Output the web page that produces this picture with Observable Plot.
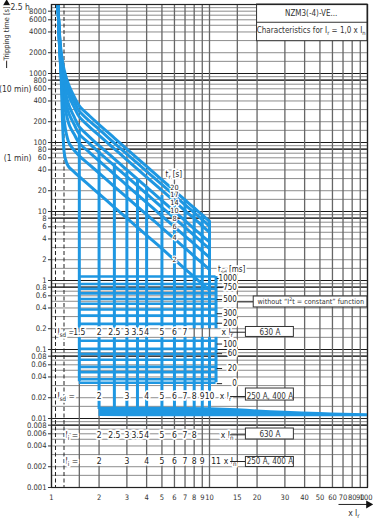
<!DOCTYPE html>
<html>
<head>
<meta charset="utf-8">
<script src="https://cdn.jsdelivr.net/npm/d3@7"></script>
<script src="https://cdn.jsdelivr.net/npm/@observablehq/plot@0.6"></script>
<style>
html,body{margin:0;padding:0;background:#fff;}
#chart svg{display:block;}
</style>
</head>
<body>
<div id="chart"></div>
<script>
// ---------- axes ----------
const xTicks = [1,2,3,4,5,6,7,8,9,10,15,20,30,40,50,60,70,80,90];
const xLastTick = [100];
const yTicks = [0.001,0.002,0.004,0.006,0.008,0.01,0.02,0.04,0.06,0.08,0.1,0.2,0.4,0.6,0.8,1,2,4,6,8,10,20,40,60,80,100,200,400,600,800,1000,2000,4000,6000,8000];
const xGrid = [1,1.5,2,3,4,5,6,7,8,9,10,15,20,30,40,50,60,70,80,90,100];
const xDashed = [1.06,1.2];
const gridMantissa = [1,1.5,2,3,4,5,6,7,8,9];
const gridDecades = [0.001,0.01,0.1,1,10,100,1000];
const yDark = [0.008,0.01,0.08,0.1,0.8,1,8,10,80,100,800,1000,10000];

// ---------- overload curves (tr) ----------
const trValues = [20,17,14,10,8,6,4,2];
const curveX = [1.1,1.12,1.15,1.2,1.25,1.3,1.4,1.5,1.75,2,2.5,3,4,5,6,7,8,9,10];
const t20 = [10000,4200,2100,1150,820,640,450,340,240,182,116,80,45,28.8,20,14.7,11.25,8.9,7.2];
const t17 = [10000,4000,1900,1000,700,540,380,285,202,155,98,68,38.3,24.5,17,12.5,9.6,7.6,6.1];
const t14 = [10000,3800,1700,860,590,450,315,235,166,127,81,56,31.5,20.2,14,10.3,7.9,6.2,5.0];
const t10 = [10000,3500,1450,680,440,330,228,168,119,90,58,40,22.5,14.4,10,7.35,5.6,4.45,3.6];
const t8  = [10000,3300,1300,560,340,250,178,132,95,72,46,32,18,11.5,8,5.9,4.5,3.55,2.9];
const t6  = [10000,3100,1150,420,240,175,128,98,71,54,34.5,24,13.5,8.6,6,4.4,3.4,2.67,2.16];
const t4  = [10000,3000,1000,220,125,95,76,64,47,36,23,16,9,5.8,4,2.94,2.25,1.78,1.44];
const t2  = [10000,3000,900,75,50,43,37,32,23.5,18,11.5,8,4.5,2.9,2,1.47,1.13,0.89,0.72];
const trLabels = ["20","17","14","10","8","6","4","2"];
const trLabelT = [22,17.3,13.2,10.3,7.9,6.0,4.2,2.0];

// ---------- short-time delay (Isd / tsd) ----------
const isdX      = [1.5,2,2.5,3,3.5,4,5,6,7,8,9,10,11];
const isdTop    = [150,75,50,37,29,23,17,15,14.7,11.25,8.9,7.2,1.14];
const isdBottom = [0.034,0.0135,0.0135,0.0135,0.0135,0.0135,0.0135,0.0135,0.0135,0.0135,0.0135,0.0135,0.033];
const tsdLineT  = [1.14,0.89,0.76,0.65,0.54,0.46,0.38,0.31,0.235,0.134,0.102,0.086,0.071,0.056,0.047,0.037,0.033];
const tsdLabels = ["1000","750","500","300","200","100","60","20","0"];
const tsdLabelT = [1.07,0.79,0.53,0.33,0.24,0.12,0.087,0.053,0.032];

// ---------- instantaneous band ----------
const bandX      = [2,5,10,15,20,30,50,70,100];
const bandTop    = [0.0146,0.0145,0.0143,0.0138,0.0133,0.0127,0.0122,0.0119,0.0117];
const bandBottom = [0.0107,0.0106,0.0106,0.0106,0.0106,0.0106,0.0106,0.0106,0.0106];

// ---------- setting rows ----------
const row1Nums = [1.5,2,2.5,3,3.5,4,5,6,7];
const row2Nums = [2,3,4,5,6,7,8,9,10];
const row3Nums = [2,2.5,3,3.5,4,5,6,7,8];
const row4Nums = [2,3,4,5,6,7,8,9,11];
const rowT = [0.178,0.0208,0.0058,0.00238];
const boxLabels = ["630 A","250 A, 400 A","630 A","250 A, 400 A"];
const boxTop = [0.212,0.0272,0.00716,0.00277];
const boxBot = [0.152,0.0182,0.00497,0.00198];

const BLUE = "#1e97e2";
const FONT = '"Liberation Sans Narrow","Arial Narrow","DejaVu Sans Condensed",sans-serif';

// build tables
const curveSets = [t20,t17,t14,t10,t8,t6,t4,t2];
const curveData = [];
trValues.forEach((tr,i)=>curveX.forEach((x,j)=>curveData.push({tr, x, t: curveSets[i][j]})));
const isdData = isdX.map((x,i)=>({x, top: isdTop[i], bottom: isdBottom[i]}));
const bandData = bandX.map((x,i)=>({x, top: bandTop[i], bottom: bandBottom[i]}));
const yGridAll = [];
gridDecades.forEach(d=>gridMantissa.forEach(m=>yGridAll.push(+(m*d).toPrecision(3))));
yGridAll.push(10000);
const boxData = boxLabels.map((s,i)=>({s, top: boxTop[i], bot: boxBot[i], row: rowT[i]}));
const tsdLab = tsdLabels.map((s,i)=>({s, t: tsdLabelT[i]}));
const trLab = trLabels.map((s,i)=>({s, t: trLabelT[i]}));

const halo = {stroke:"white", strokeWidth:3.5, fill:"#222"};
const X_LABEL_T = 0.00072;   // level of the x tick labels, below the frame

const plot = Plot.plot({
  width: 373, height: 518,
  marginTop: 4, marginRight: 6, marginBottom: 31, marginLeft: 51,
  style: {fontFamily: FONT, fontSize: "8.5px", background: "white", color: "#222"},
  x: {type: "log", domain: [1,100], axis: null},
  y: {type: "log", domain: [0.001,10000], axis: null},
  marks: [
    // grid
    Plot.ruleY(yGridAll, {stroke:"#8c8c8c", strokeWidth:1}),
    Plot.ruleY(yDark, {stroke:"#1a1a1a", strokeWidth:1.2}),
    Plot.ruleX(xGrid, {stroke:"#666", strokeWidth:1.3}),
    Plot.ruleX(xDashed, {stroke:"#222", strokeWidth:1, strokeDasharray:"4,2.5"}),
    // title box
    Plot.rect([0], {x1:20, x2:100, y1:2940, y2:10000, fill:"white", stroke:"#333", strokeWidth:1}),
    Plot.ruleY([5530], {x1:20, x2:100, stroke:"#333"}),
    Plot.text(["NZM3(-4)-VE..."], {x:()=>44, y:()=>7400, text:d=>d, fontSize:8, fill:"#333"}),
    Plot.text(["Characteristics for I_{r} = 1,0 x I_{n}"], {x:()=>44, y:()=>4270, text:d=>d, fontSize:8, fill:"#333"}),
    // overload curves
    Plot.line(curveData, {x:"x", y:"t", z:"tr", stroke:BLUE, strokeWidth:3, curve:"monotone-y", clip:true}),
    // Isd verticals (split around the label row)
    Plot.ruleX(isdData, {x:"x", y1:"top", y2:()=>0.2, stroke:BLUE, strokeWidth:3}),
    Plot.ruleX(isdData, {x:"x", y1:()=>0.15, y2:"bottom", stroke:BLUE, strokeWidth:3}),
    // tsd horizontal bands
    Plot.ruleY(tsdLineT, {x1:1.5, x2:11, stroke:BLUE, strokeWidth:2.6}),
    // instantaneous band
    Plot.areaY(bandData, {x:"x", y1:"bottom", y2:"top", fill:BLUE, curve:"monotone-x"}),
    // tr labels
    Plot.text(trLab, {x:()=>6, y:"t", text:"s", ...halo, strokeWidth:2.5, fontSize:7.2}),
    Plot.text(["t_{r} [s]"], {x:()=>5.95, y:()=>35, text:d=>d, ...halo, fontSize:8}),
    // tsd labels
    Plot.text(["t_{sd} [ms]"], {x:()=>11.3, y:()=>1.44, text:d=>d, textAnchor:"start", ...halo, fontSize:8}),
    Plot.ruleY(tsdLab, {y:"t", x1:()=>11.2, x2:()=>12.1, stroke:"#222", strokeWidth:1}),
    Plot.text(tsdLab, {x:()=>14.9, y:"t", text:"s", textAnchor:"end", ...halo, fontSize:8}),
    // "without I2t" box
    Plot.ruleY([0.49], {x1:15, x2:19, stroke:"#222"}),
    Plot.rect([0], {x1:19.05, x2:100, y1:0.407, y2:0.586, fill:"white", stroke:"#333"}),
    Plot.text(["without \u201cI^{2}t = constant\u201d function"], {x:()=>43.8, y:()=>0.49, text:d=>d, fontSize:7.2, fill:"#333"}),
    // setting rows
    Plot.text(["I_{sd} ="], {x:()=>1.09, y:()=>rowT[0], text:d=>d, textAnchor:"start", ...halo}),
    Plot.text(row1Nums, {x:d=>d, y:()=>rowT[0], text:d=>String(d), ...halo}),
    Plot.text(["x I_{r}"], {x:()=>11.9, y:()=>rowT[0], text:d=>d, textAnchor:"start", ...halo}),
    Plot.text(["I_{sd} ="], {x:()=>1.09, y:()=>rowT[1], text:d=>d, textAnchor:"start", ...halo}),
    Plot.text(row2Nums, {x:d=>d, y:()=>rowT[1], text:d=>String(d), ...halo}),
    Plot.text(["x I_{r}"], {x:()=>11.6, y:()=>rowT[1], text:d=>d, textAnchor:"start", ...halo}),
    Plot.text(["I_{i} ="], {x:()=>1.226, y:()=>rowT[2], text:d=>d, textAnchor:"start", ...halo}),
    Plot.text(row3Nums, {x:d=>d, y:()=>rowT[2], text:d=>String(d), ...halo}),
    Plot.text(["x I_{n}"], {x:()=>11.8, y:()=>rowT[2], text:d=>d, textAnchor:"start", ...halo}),
    Plot.text(["I_{i} ="], {x:()=>1.226, y:()=>rowT[3], text:d=>d, textAnchor:"start", ...halo}),
    Plot.text(row4Nums, {x:d=>d, y:()=>rowT[3], text:d=>String(d), ...halo}),
    Plot.text(["x I_{n}"], {x:()=>12.3, y:()=>rowT[3], text:d=>d, textAnchor:"start", ...halo}),
    // boxes on the right
    Plot.ruleY(boxData, {y:"row", x1:()=>13.6, x2:()=>17, stroke:"#222"}),
    Plot.rect(boxData, {x1:()=>17, x2:()=>34.2, y1:"bot", y2:"top", fill:"white", stroke:"#333"}),
    Plot.text(boxData, {x:()=>24.1, y:"row", text:"s", fontSize:8, fill:"#333"}),
    Plot.frame({stroke:"#222", strokeWidth:1.2}),
    // axes (ticks and labels drawn through the scales)
    Plot.ruleY(yTicks, {x1:()=>0.957, x2:()=>1, stroke:"#333", strokeWidth:1}),
    Plot.text(yTicks, {x:()=>1, y:d=>d, dx:-5, text:d=>String(d), textAnchor:"end", fontSize:7.6, fill:"#333"}),
    Plot.text(xTicks, {x:d=>d, y:()=>X_LABEL_T, text:d=>String(d), fontSize:7.5, fill:"#333"}),
    Plot.text(xLastTick, {x:d=>d, y:()=>X_LABEL_T, dx:5, textAnchor:"end", text:d=>String(d), fontSize:7.5, fill:"#333"}),
    // y axis annotations in margin
    Plot.ruleX([0.52], {y1:1180, y2:10000, stroke:"#222", strokeWidth:1}),
    Plot.dot([0], {x:()=>0.52, y:()=>10200, symbol:"triangle", r:3, fill:"#111", stroke:null}),
    Plot.text(["Tripping time [s]"], {x:()=>0.52, y:()=>3800, text:d=>d, rotate:-90, ...halo, fill:"#333", fontSize:7.4}),
    Plot.text(["2.5 h"], {x:()=>0.55, y:()=>9000, text:d=>d, textAnchor:"start", fill:"#333"}),
    Plot.text(["(10 min)"], {x:()=>0.747, y:()=>600, text:d=>d, textAnchor:"end", fill:"#333"}),
    Plot.text(["(1 min)"], {x:()=>0.747, y:()=>60, text:d=>d, textAnchor:"end", fill:"#333"}),
    // x axis arrow
    Plot.ruleY([0.000568], {x1:66, x2:100, stroke:"#222", strokeWidth:1}),
    Plot.dot([0], {x:()=>101.5, y:()=>0.000568, symbol:"triangle", r:3, rotate:90, fill:"#111", stroke:null}),
    Plot.text(["x I_{r}"], {x:()=>82, y:()=>0.00042, text:d=>d, fill:"#333"})
  ]
});

// turn _{..} and ^{..} into real sub/superscripts
d3.select(plot).selectAll("text").each(function(){
  const s = this.textContent;
  if (!/[_^]\{/.test(s)) return;
  const el = d3.select(this);
  el.text(null);
  const re = /([_^])\{([^}]*)\}|([^_^]+)/g;
  let m, cur = 0;
  while ((m = re.exec(s))) {
    if (m[3]) {
      el.append("tspan").attr("dy", (0 - cur) + "px").text(m[3]);
      cur = 0;
    } else {
      const off = m[1] === "_" ? 2.2 : -3;
      el.append("tspan").attr("dy", (off - cur) + "px").attr("font-size", "0.72em").text(m[2]);
      cur = off;
    }
  }
});

document.getElementById("chart").appendChild(plot);
</script>
</body>
</html>
